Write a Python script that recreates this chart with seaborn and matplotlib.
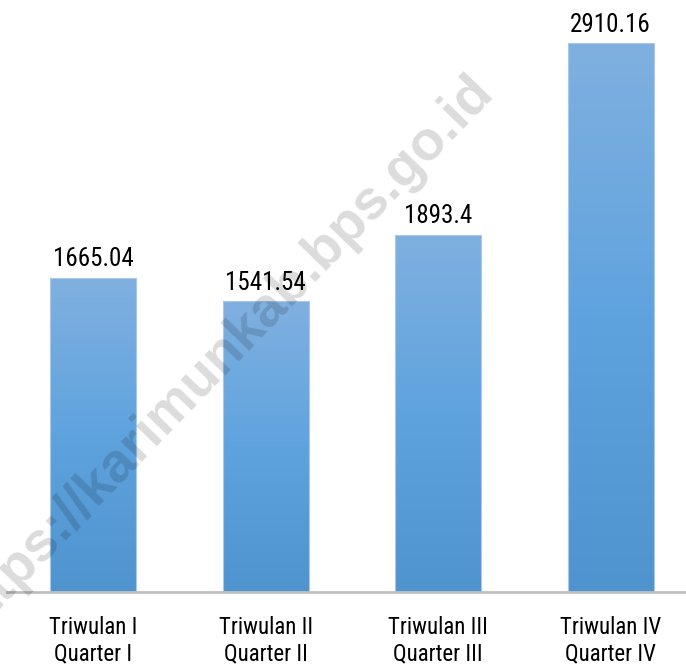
import numpy as np
import pandas as pd
import seaborn as sns
import matplotlib.pyplot as plt
from matplotlib import font_manager
from matplotlib.colors import LinearSegmentedColormap

# data
categories = ["Triwulan I\nQuarter I", "Triwulan II\nQuarter II",
              "Triwulan III\nQuarter III", "Triwulan IV\nQuarter IV"]
values = [1665.04, 1541.54, 1893.4, 2910.16]
value_labels = ["1665.04", "1541.54", "1893.4", "2910.16"]

df = pd.DataFrame({"quarter": categories, "value": values})

sns.set_theme(style="white")

# pick a condensed face if one is installed
names = sorted({f.name for f in font_manager.fontManager.ttflist})
condensed = None
for cand in ["Liberation Sans Narrow", "DejaVu Sans Condensed", "Roboto Condensed",
             "Open Sans Condensed", "Noto Sans Condensed"]:
    if cand in names:
        condensed = cand
        break
plt.rcParams["font.family"] = [condensed or "DejaVu Sans", "DejaVu Sans"]
plt.rcParams["font.stretch"] = "condensed"

fig = plt.figure(figsize=(6.86, 6.69), dpi=100)
ax = fig.add_axes([7 / 686, 1 - 592 / 669, 690 / 686, 592 / 669])

sns.barplot(data=df, x="quarter", y="value", color="#5b9bd5", width=0.5,
            ax=ax, zorder=2)
ax.set_xlim(-0.5, 3.5)
ax.set_ylim(0, 3139)

# vertical gradient inside each bar
grad = LinearSegmentedColormap.from_list("g", ["#4f93cf", "#5fa3de", "#80b0e0"])
g = np.linspace(0, 1, 256).reshape(-1, 1)
for bar in ax.patches:
    x0, y0 = bar.get_x(), bar.get_y()
    w, h = bar.get_width(), bar.get_height()
    bar.set_facecolor("none")
    bar.set_edgecolor("#a9c8ea")
    bar.set_linewidth(0.8)
    im = ax.imshow(g, cmap=grad, aspect="auto", origin="lower",
                   extent=[x0, x0 + w, y0, y0 + h], zorder=1)
    im.set_clip_path(bar)

for i, (v, lab) in enumerate(zip(values, value_labels)):
    ax.text(i, v + 35, lab, ha="center", va="bottom", fontsize=18, color="black")

ax.set_xlabel("")
ax.set_ylabel("")
ax.set_yticks([])
ax.tick_params(axis="x", length=0, pad=17, labelsize=16.5, colors="black")
for s in ["top", "right", "left"]:
    ax.spines[s].set_visible(False)
ax.spines["bottom"].set_color("#c0c0c0")
ax.spines["bottom"].set_linewidth(2)

# watermark
fig.text(0.322, 0.468, "https://karimunkab.bps.go.id", rotation=46,
         ha="center", va="center", fontsize=40, fontweight="bold",
         family="Liberation Sans", stretch="normal", color="black",
         alpha=0.14, zorder=10)

fig.savefig("out.png", dpi=100)
